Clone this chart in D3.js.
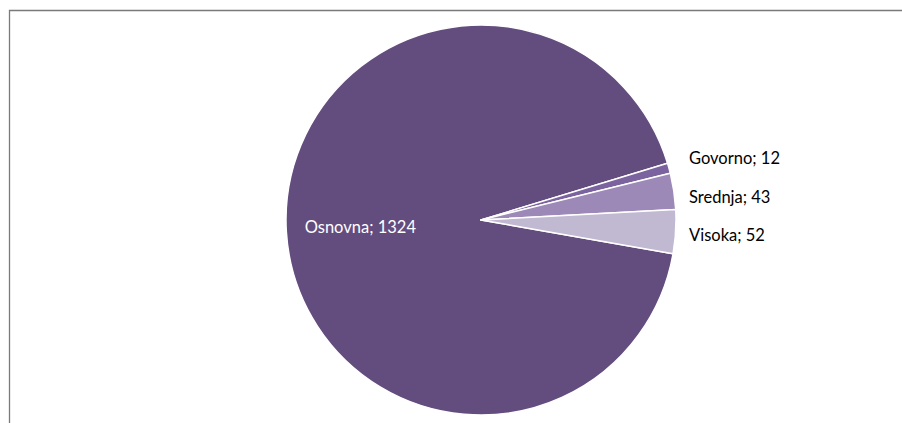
<!DOCTYPE html>
<html>
<head>
<meta charset="utf-8">
<script src="https://cdn.jsdelivr.net/npm/d3@7"></script>
<style>
  html, body { margin: 0; padding: 0; background: #fff; }
  svg { display: block; }
  text { font-family: Lato, "Liberation Sans", sans-serif; font-size: 16.5px; }
</style>
</head>
<body>
<div id="chart"></div>
<script>
// data
const categories = ["Osnovna", "Govorno", "Srednja", "Visoka"];
const values = [1324, 12, 43, 52];
const colors = ["#634c7e", "#7b63a0", "#9d89b7", "#c1b8d2"];

const width = 902, height = 423;
const cx = 481, cy = 220, radius = 195;

const svg = d3.select("#chart").append("svg")
  .attr("width", width)
  .attr("height", height);

// chart frame (only top and left edges visible in the crop)
svg.append("path")
  .attr("d", `M9.5,${height} V10.5 H${width}`)
  .attr("fill", "none")
  .attr("stroke", "#7a7a7a")
  .attr("stroke-width", 1.3);

const data = categories.map((c, i) => ({ name: c, value: values[i], color: colors[i] }));

// first slice starts at ~100 degrees, clockwise, like Excel
const pie = d3.pie()
  .value(d => d.value)
  .sort(null)
  .startAngle(100 * Math.PI / 180)
  .endAngle(100 * Math.PI / 180 + 2 * Math.PI);

const arcs = pie(data);
const arc = d3.arc().innerRadius(0).outerRadius(radius);

const g = svg.append("g").attr("transform", `translate(${cx},${cy})`);

g.selectAll("path.slice")
  .data(arcs)
  .enter().append("path")
  .attr("class", "slice")
  .attr("d", arc)
  .attr("fill", d => d.data.color)
  .attr("stroke", "#fff")
  .attr("stroke-width", 1.5)
  .attr("stroke-linejoin", "round");

// inside label for the big slice
const inner = arcs[0];
const mid0 = (inner.startAngle + inner.endAngle) / 2;
g.append("text")
  .attr("x", Math.sin(mid0) * radius * 0.62)
  .attr("y", -Math.cos(mid0) * radius * 0.62)
  .attr("text-anchor", "middle")
  .attr("dy", "0.35em")
  .attr("fill", "#fff")
  .text(`${inner.data.name}; ${inner.data.value}`);

// outside labels for the small slices, spread apart so they don't collide
const outer = arcs.slice(1).map(a => {
  const mid = (a.startAngle + a.endAngle) / 2;
  return { a: a, y: -Math.cos(mid) * radius };
});
const gap = 38.5;
const meanY = d3.mean(outer, d => d.y);
outer.forEach((d, i) => { d.y = meanY + (i - (outer.length - 1) / 2) * gap; });

g.selectAll("text.outer")
  .data(outer)
  .enter().append("text")
  .attr("class", "outer")
  .attr("x", radius + 13)
  .attr("y", d => d.y)
  .attr("dy", "0.35em")
  .attr("fill", "#000")
  .text(d => `${d.a.data.name}; ${d.a.data.value}`);
</script>
</body>
</html>
